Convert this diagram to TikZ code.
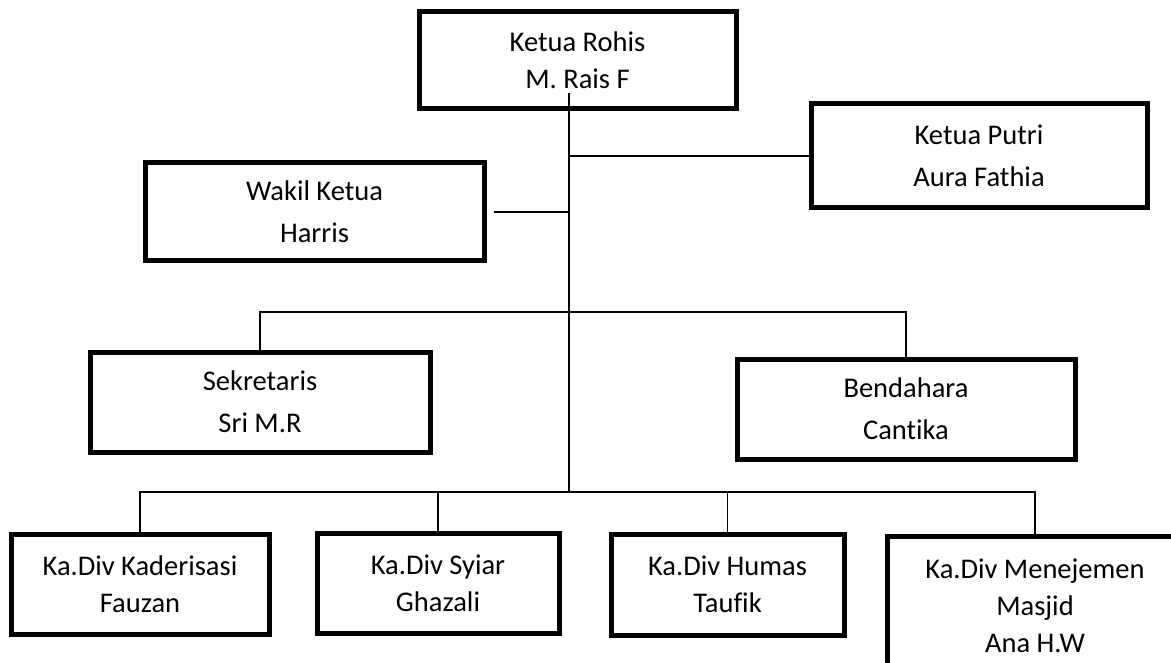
\documentclass[tikz,border=0pt]{standalone}
\usepackage{fontspec}
\setmainfont[Ligatures=NoCommon]{Carlito}
\begin{document}
\begin{tikzpicture}[x=1pt,y=1pt]
\tikzstyle{every node}+=[inner sep=0pt]
\tikzstyle{kotak}=[draw, black, line width=5pt, align=center, font=\fontsize{28.5}{37}\selectfont]
\tikzstyle{kotaklebar}=[kotak, font=\fontsize{28.5}{42}\selectfont]
\tikzstyle{garis}=[black, line width=1.6pt]
\useasboundingbox (0,0) rectangle (1171,-663);
% pengurus inti
\node [kotak, minimum width=317, minimum height=97] (rohis) at (577.5,-60.5) {Ketua Rohis\\M. Rais F};
\node [kotaklebar, minimum width=336, minimum height=104] (putri) at (979,-156) {Ketua Putri\\Aura Fathia};
\node [kotaklebar, minimum width=339, minimum height=98] (wakil) at (314.5,-212) {Wakil Ketua\\Harris};
\node [kotaklebar, minimum width=340, minimum height=100] (sekre) at (260,-402) {Sekretaris\\Sri M.R};
\node [kotaklebar, minimum width=338, minimum height=100] (benda) at (906,-409) {Bendahara\\Cantika};
% kepala divisi
\node [kotak, minimum width=258, minimum height=100] (kader) at (140,-584) {Ka.Div Kaderisasi\\Fauzan};
\node [kotak, minimum width=242, minimum height=100] (syiar) at (438,-583) {Ka.Div Syiar\\Ghazali};
\node [kotak, minimum width=233, minimum height=101] (humas) at (727.5,-584.5) {Ka.Div Humas\\Taufik};
\node [kotak, minimum width=296, minimum height=138, anchor=north] (masjid) at (1035,-534) {Ka.Div Menejemen\\Masjid\\Ana H.W};
% garis
\coordinate (atas) at (569,-93);
\coordinate (cabang1) at (569,-312);
\coordinate (cabang2) at (569,-492);
\draw [garis] (atas) -- (cabang2);
\draw [garis] (putri.west) -- (putri.west -| atas);
\draw [garis, shorten <=7pt] (wakil.east) -- (wakil.east -| atas);
\draw [garis] (sekre.north) |- (cabang1) -| (benda.north);
\draw [garis] (kader.north) |- (cabang2) -| (masjid.north);
\draw [garis] (syiar.north) -- (syiar.north |- cabang2);
\draw [garis] (humas.north) -- (humas.north |- cabang2);
\end{tikzpicture}
\end{document}
